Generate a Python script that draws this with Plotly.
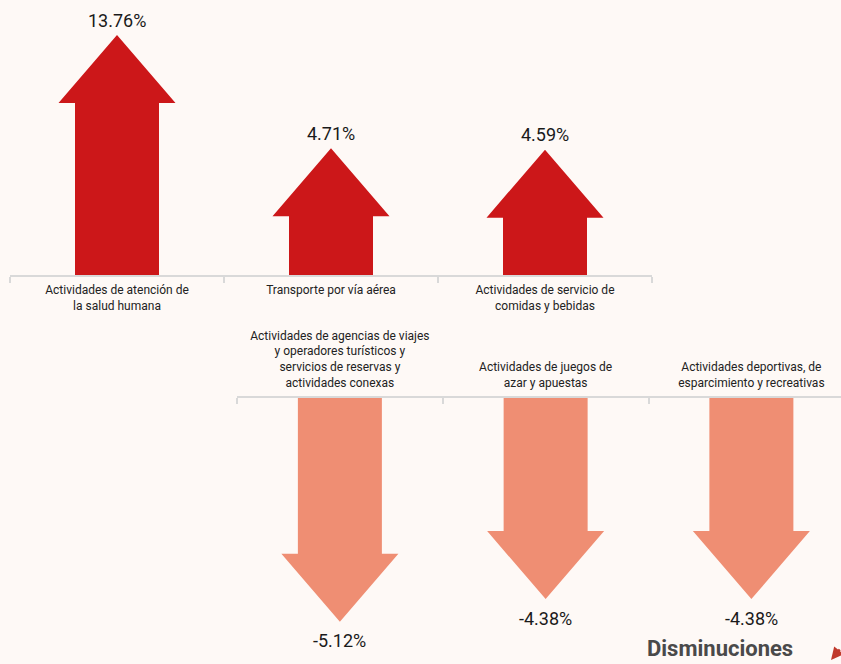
import plotly.graph_objects as go

# Datos: variaciones porcentuales por actividad
cat_sube = [
    "Actividades de atención de<br>la salud humana",
    "Transporte por vía aérea",
    "Actividades de servicio de<br>comidas y bebidas",
]
val_sube = [13.76, 4.71, 4.59]

cat_baja = [
    "Actividades de agencias de viajes<br>y operadores turísticos y<br>servicios de reservas y<br>actividades conexas",
    "Actividades de juegos de<br>azar y apuestas",
    "Actividades deportivas, de<br>esparcimiento y recreativas",
]
val_baja = [-5.12, -4.38, -4.38]

W, H = 841, 664
FONDO = "#fef9f6"
ROJO = "#cc1719"
SALMON = "#ef8e73"
GRIS = "#d9d9d9"
FUENTE = "Roboto, Arial, sans-serif"

# geometría en pixeles (estilo de la flecha)
MEDIO_ASTA = 42
MEDIO_PUNTA = 58.5
ALTO_PUNTA = 68

# ejes: posiciones en pixeles
top_x0, top_x1, top_eje = 10, 652, 275
bot_x0, bot_eje = 237, 397.5
top_px_y = 12.5   # px por unidad arriba
bot_px_y = 30.5   # px por unidad abajo
bot_px_x = 205.75
top_rango_x = [-0.5, 2.5]
top_px_x = (top_x1 - top_x0) / 3
bot_rango_x = [-0.5, -0.5 + (W - bot_x0) / bot_px_x]


def flecha(i, v, px_x, px_y):
    s = 1 if v >= 0 else -1
    a = MEDIO_ASTA / px_x
    p = MEDIO_PUNTA / px_x
    h = s * ALTO_PUNTA / px_y
    xs = [i - a, i - a, i - p, i, i + p, i + a, i + a, i - a]
    ys = [0, v, v, v + h, v, v, 0, 0]
    return xs, ys


fig = go.Figure()

# flechas hacia arriba
for i, v in enumerate(val_sube):
    xs, ys = flecha(i, v, top_px_x, top_px_y)
    fig.add_trace(go.Scatter(x=xs, y=ys, fill="toself", fillcolor=ROJO, mode="lines",
                             line=dict(width=0), hoverinfo="skip", xaxis="x", yaxis="y"))
    fig.add_annotation(x=i, y=v + ALTO_PUNTA / top_px_y, xref="x", yref="y",
                       text="%.2f%%" % v, showarrow=False, yanchor="middle", yshift=15,
                       font=dict(family=FUENTE, size=18, color="#1a1a1a"))

# flechas hacia abajo
for i, v in enumerate(val_baja):
    xs, ys = flecha(i, v, bot_px_x, bot_px_y)
    fig.add_trace(go.Scatter(x=xs, y=ys, fill="toself", fillcolor=SALMON, mode="lines",
                             line=dict(width=0), hoverinfo="skip", xaxis="x2", yaxis="y2"))
    fig.add_annotation(x=i, y=v - ALTO_PUNTA / bot_px_y, xref="x2", yref="y2",
                       text="%.2f%%" % v, showarrow=False, yanchor="middle", yshift=-19,
                       font=dict(family=FUENTE, size=18, color="#1a1a1a"))

eje_comun = dict(
    showgrid=False, zeroline=False, showline=True, linecolor=GRIS, linewidth=2,
    ticks="", tickfont=dict(family=FUENTE, size=12, color="#222"),
    fixedrange=True,
)

fig.update_layout(
    width=W, height=H,
    margin=dict(l=0, r=0, t=0, b=0),
    paper_bgcolor=FONDO, plot_bgcolor=FONDO,
    showlegend=False,
    xaxis=dict(
        eje_comun, domain=[top_x0 / W, top_x1 / W], range=top_rango_x,
        anchor="y", side="bottom", ticklabelstandoff=3,
        tickmode="array", tickvals=[0, 1, 2], ticktext=cat_sube,
        minor=dict(tickmode="array", tickvals=[-0.5, 0.5, 1.5, 2.5],
                   ticks="outside", ticklen=6, tickcolor=GRIS, tickwidth=2),
    ),
    yaxis=dict(
        domain=[1 - top_eje / H, 1], range=[0, top_eje / top_px_y],
        visible=False, fixedrange=True,
    ),
    xaxis2=dict(
        eje_comun, domain=[bot_x0 / W, 1], range=bot_rango_x,
        anchor="y2", side="top", ticklabelstandoff=4,
        tickmode="array", tickvals=[0, 1, 2], ticktext=cat_baja,
        minor=dict(tickmode="array", tickvals=[-0.5, 0.5, 1.5],
                   ticks="inside", ticklen=6, tickcolor=GRIS, tickwidth=2),
    ),
    yaxis2=dict(
        domain=[0, 1 - bot_eje / H], range=[-(H - bot_eje) / bot_px_y, 0],
        visible=False, fixedrange=True,
    ),
)

# título inferior
fig.add_annotation(
    x=645 / W, y=1 / H, xref="paper", yref="paper",
    xanchor="left", yanchor="bottom", showarrow=False,
    text="<b>Disminuciones</b>",
    font=dict(family=FUENTE, size=22, color="#4a4a4a"),
)
fig.add_annotation(
    x=831 / W, y=1 - 660 / H, xref="paper", yref="paper",
    ax=10, ay=-12, showarrow=True, arrowhead=2, arrowsize=1,
    arrowwidth=2.5, arrowcolor="#c0392b", text="",
)

# sin margen del body para que el gráfico ocupe toda la ventana
fig.write_html("out.html", config={"displayModeBar": False},
               post_script="document.body.style.margin='0';")
